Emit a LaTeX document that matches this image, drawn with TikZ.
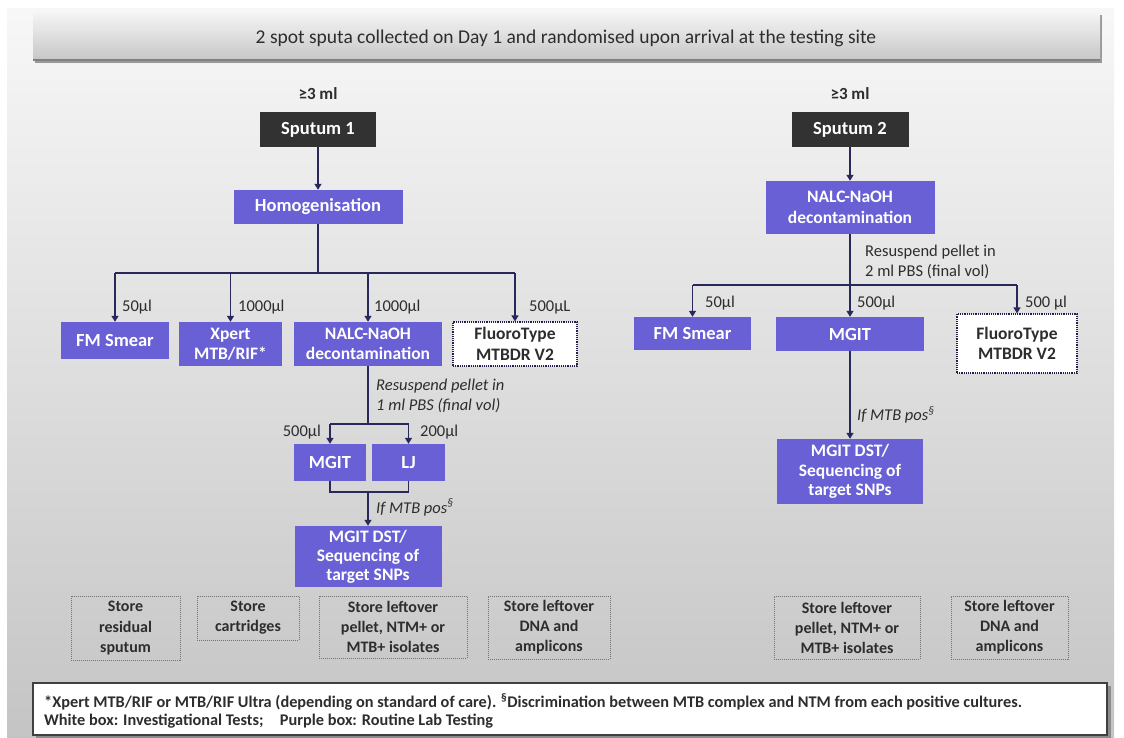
\documentclass[tikz,border=0pt]{standalone}
\usepackage{fontspec}
\setmainfont{Carlito}
\usetikzlibrary{arrows.meta}
\definecolor{pur}{RGB}{104,96,212}
\definecolor{navy}{RGB}{40,40,92}
\definecolor{darkbox}{RGB}{50,50,50}
\definecolor{txt}{RGB}{45,45,45}
\tikzset{
  boxtxt/.style={font=\bfseries\fontsize{17.5}{20.5}\selectfont, align=center, inner sep=0pt},
  onetxt/.style={font=\bfseries\fontsize{18.5}{21}\selectfont},
  purbox/.style={boxtxt, fill=pur, text=white},
  darkbx/.style={boxtxt, onetxt, fill=darkbox, text=white},
  whitebox/.style={boxtxt, fill=white, text=txt, draw=navy!80!black, densely dotted, line width=1.2pt},
  storebox/.style={font=\bfseries\fontsize{16}{20}\selectfont, align=center, inner sep=0pt, text=txt, draw=black!55, densely dotted, line width=1pt},
  lbl/.style={font=\fontsize{16.5}{20}\selectfont, text=txt, inner sep=0pt},
  ilbl/.style={font=\itshape\fontsize{16.5}{20}\selectfont, text=txt, inner sep=0pt},
  ln/.style={draw=navy, line width=1.3pt},
  arr/.style={draw=navy, line width=1.3pt, -{Triangle[length=6pt,width=7pt]}},
  wh/.style n args={2}{minimum width=#1pt, minimum height=#2pt}
}
\begin{document}
\begin{tikzpicture}[x=1pt,y=-1pt]
\useasboundingbox (0,0) rectangle (1124,737);
% background panel
\shade[top color=black!3, bottom color=black!23] (7,8) rectangle (1114,737);
% title bar
\fill[black!40] (35,15) rectangle (1102,63);
\shade[top color=black!4, bottom color=black!22] (33,12) rectangle (1100,60);
\draw[black!50, line width=1.5pt] (33,60) -- (1100,60);
\node[font=\fontsize{19.5}{22}\selectfont, text=txt] (title) at (566,38)
  {2 spot sputa collected on Day 1 and randomised upon arrival at the testing site};

% ---------- left column ----------
\node[font=\bfseries\fontsize{17}{20}\selectfont, text=txt] (gt1) at (318,94) {≥3 ml};
\node[darkbx, wh={116}{35}] (s1) at (318,129.5) {Sputum 1};
\node[purbox, onetxt, wh={169}{34}] (hom) at (318,207) {Homogenisation};
\node[purbox, onetxt, wh={108}{37}] (fm1) at (115,340.5) {FM Smear};
\node[purbox, wh={103}{44}] (xp1) at (230.5,344) {Xpert\\MTB/RIF*};
\node[purbox, wh={148}{44}] (na1) at (368,344) {NALC-NaOH\\decontamination};
\node[whitebox, wh={124}{44}] (ft1) at (515,344) {FluoroType\\MTBDR V2};
\node[purbox, onetxt, wh={72}{37}] (mg1) at (330,462.5) {MGIT};
\node[purbox, onetxt, wh={73}{37}] (lj1) at (408.5,462.5) {LJ};
\node[purbox, wh={147}{61}, font=\bfseries\fontsize{17.5}{19}\selectfont] (dst1) at (368,556.5) {MGIT DST/\\Sequencing of\\target SNPs};
\node[storebox, wh={109}{64}] (st1) at (125.5,628) {Store\\residual\\sputum};
\node[storebox, wh={102}{44}] (st2) at (248,618) {Store\\cartridges};
\node[storebox, wh={148}{62}] (st3) at (393,627) {Store leftover\\pellet, NTM+ or\\MTB+ isolates};
\node[storebox, wh={122}{63}] (st4) at (549,627.5) {Store leftover\\DNA and\\amplicons};

\coordinate (b1) at (318,273);
\coordinate (b2) at (368,424);
\coordinate (b3) at (368,492);
\draw[arr] (s1) -- (hom);
\draw[ln] (hom.south) -- (b1);
\draw[ln] (fm1.north |- b1) -- (ft1.north |- b1);
\draw[arr] (fm1.north |- b1) -- (fm1.north);
\draw[arr] (xp1.north |- b1) -- (xp1.north);
\draw[arr] (na1.north |- b1) -- (na1.north);
\draw[arr] (ft1.north |- b1) -- (ft1.north);
\draw[ln] (na1.south) -- (b2);
\draw[ln] (mg1.north |- b2) -- (lj1.north |- b2);
\draw[arr] (mg1.north |- b2) -- (mg1.north);
\draw[arr] (lj1.north |- b2) -- (lj1.north);
\draw[ln] (mg1.south) -- (mg1.south |- b3) -- (lj1.south |- b3) -- (lj1.south);
\draw[arr] (b3) -- (dst1.north);

\node[lbl, anchor=west] (l50a) at (122,307.5) {50µl};
\node[lbl, anchor=west] (l1000a) at (238,307.5) {1000µl};
\node[lbl, anchor=west] (l1000b) at (374,307.5) {1000µl};
\node[lbl, anchor=west] (l500a) at (529,307.5) {500µL};
\node[ilbl, anchor=west, align=left] (res1) at (376,396) {Resuspend pellet in\\1 ml PBS (final vol)};
\node[lbl, anchor=east] (l500b) at (321,432) {500µl};
\node[lbl, anchor=west] (l200) at (420,432) {200µl};
\node[ilbl, anchor=west] (pos1) at (376,507.5) {If MTB pos\textsuperscript{\S}};

% ---------- right column ----------
\node[font=\bfseries\fontsize{17}{20}\selectfont, text=txt] (gt2) at (850,94) {≥3 ml};
\node[darkbx, wh={117}{35}] (s2) at (850,129.5) {Sputum 2};
\node[purbox, wh={169}{53}] (na2) at (850,207.5) {NALC-NaOH\\decontamination};
\node[purbox, onetxt, wh={117}{33}] (fm2) at (692.5,333.5) {FM Smear};
\node[purbox, onetxt, wh={148}{34}] (mg2) at (850,334) {MGIT};
\node[whitebox, wh={120}{59}] (ft2) at (1017,343.5) {FluoroType\\MTBDR V2};
\node[purbox, wh={146}{65}, font=\bfseries\fontsize{17.5}{19.5}\selectfont] (dst2) at (850,471.5) {MGIT DST/\\Sequencing of\\target SNPs};
\node[storebox, wh={146}{63}] (st5) at (847,627.5) {Store leftover\\pellet, NTM+ or\\MTB+ isolates};
\node[storebox, wh={117}{63}] (st6) at (1009.5,627.5) {Store leftover\\DNA and\\amplicons};

\coordinate (b4) at (850,285);
\draw[arr] (s2) -- (na2);
\draw[arr] (na2.south) -- (mg2.north);
\draw[ln] (fm2.north |- b4) -- (ft2.north |- b4);
\draw[arr] (fm2.north |- b4) -- (fm2.north);
\draw[arr] (ft2.north |- b4) -- (ft2.north);
\draw[arr] (mg2.south) -- (dst2.north);

\node[lbl, anchor=west, align=left] (res2) at (865,262) {Resuspend pellet in\\2 ml PBS (final vol)};
\node[lbl, anchor=west] (l50c) at (705,303) {50µl};
\node[lbl, anchor=west] (l500c) at (857,303) {500µl};
\node[lbl, anchor=west] (l500d) at (1025,303) {500 µl};
\node[ilbl, anchor=west] (pos2) at (857,415) {If MTB pos\textsuperscript{\S}};

% ---------- footer ----------
\fill[black!45] (36,686) rectangle (1111,738);
\node[draw=black!75, line width=1.5pt, fill=white, minimum width=1074pt, minimum height=52pt, inner sep=0pt] (foot) at (570,709) {};
\node[anchor=west, align=left, font=\bfseries\fontsize{16.3}{17.5}\selectfont, text=txt, inner sep=0pt] (foottxt) at (44,711)
  {*Xpert MTB/RIF or MTB/RIF Ultra (depending on standard of care). \textsuperscript{\S}Discrimination between MTB complex and NTM from each positive cultures.\\
   White box: Investigational Tests;\quad Purple box: Routine Lab Testing};
\end{tikzpicture}
\end{document}
